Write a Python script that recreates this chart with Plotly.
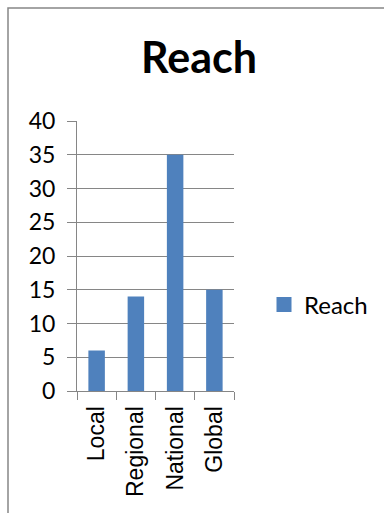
import plotly.graph_objects as go

categories = ["Local", "Regional", "National", "Global"]
reach = [6, 14, 35, 15]
y_ticks = [0, 5, 10, 15, 20, 25, 30, 35, 40]

W, H = 384, 513
L, R, T, B = 77, 150, 121, 122
pw, ph = W - L - R, H - T - B

def px_x(x):
    return (x - L) / pw

def px_y(y):
    return (H - B - y) / ph

grey = "#868686"
blue = "#4F81BD"

fig = go.Figure()
fig.add_trace(
    go.Bar(
        x=categories,
        y=reach,
        name="Reach",
        marker=dict(color=blue, line=dict(width=0)),
        showlegend=False,
    )
)
# legend key drawn as a square marker so it matches the bar colour block
fig.add_trace(
    go.Scatter(
        x=[None],
        y=[None],
        mode="markers",
        name="Reach",
        marker=dict(symbol="square", size=15, color=blue),
        showlegend=True,
    )
)

fig.update_layout(
    width=W,
    height=H,
    margin=dict(l=L, r=R, t=T, b=B, autoexpand=False),
    paper_bgcolor="white",
    plot_bgcolor="white",
    bargap=0.58,
    title=dict(
        text="<b>Reach</b>",
        font=dict(family="Lato", size=43, color="black"),
        x=px_x(199),
        xref="paper",
        xanchor="center",
        y=1 - 58 / H,
        yanchor="middle",
    ),
    legend=dict(
        x=px_x(264),
        xanchor="left",
        y=px_y(305),
        yanchor="middle",
        font=dict(family="Lato", size=24, color="black"),
        itemwidth=30,
        bgcolor="rgba(0,0,0,0)",
    ),
    shapes=[
        dict(
            type="rect",
            xref="paper",
            yref="paper",
            x0=px_x(8),
            x1=px_x(400),
            y0=px_y(530),
            y1=px_y(8),
            line=dict(color=grey, width=1.5),
            layer="below",
        )
    ],
)

fig.update_xaxes(
    type="category",
    showline=True,
    linecolor=grey,
    linewidth=1,
    ticks="outside",
    tickson="boundaries",
    ticklen=8,
    tickcolor=grey,
    tickangle=-90,
    tickfont=dict(family="Liberation Sans", size=23, color="black"),
    ticklabelstandoff=5,
    showgrid=False,
)

fig.update_yaxes(
    range=[0, 40],
    tickvals=y_ticks,
    showline=True,
    linecolor=grey,
    linewidth=1,
    ticks="outside",
    ticklen=9,
    tickcolor=grey,
    showgrid=True,
    gridcolor=grey,
    gridwidth=1,
    zeroline=False,
    tickfont=dict(family="Lato", size=23, color="black"),
    ticklabelstandoff=7,
)

fig.write_html("out.html")
